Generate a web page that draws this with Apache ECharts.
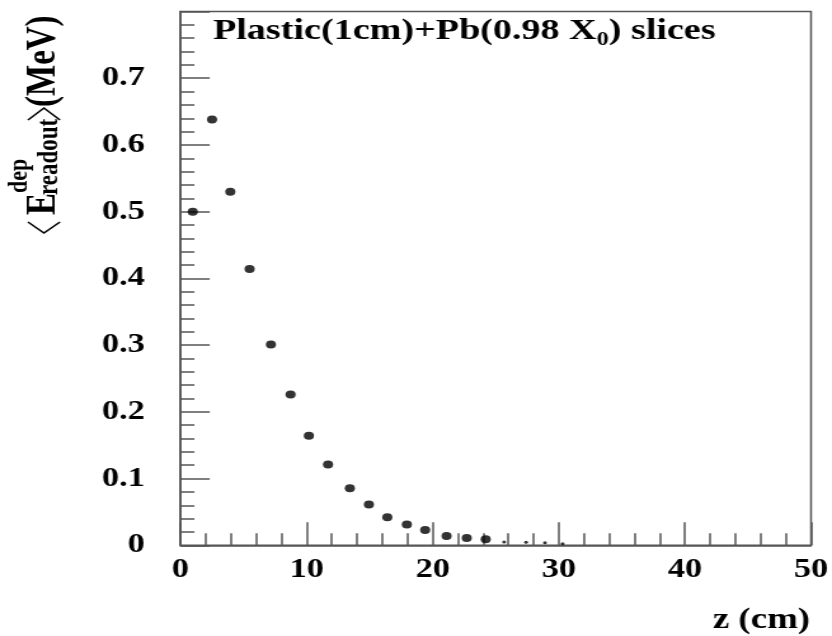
<!DOCTYPE html>
<html>
<head>
<meta charset="utf-8">
<script src="https://cdn.jsdelivr.net/npm/echarts@6/dist/echarts.min.js"></script>
<style>
html,body{margin:0;padding:0;background:#fff;overflow:hidden;}
#c{width:655px;height:636px;transform:scaleX(1.2702);transform-origin:0 0;}
</style>
</head>
<body>
<div id="c"></div>
<script>
// Data
const zSlices = [0.97, 2.5, 3.95, 5.48, 7.17, 8.73, 10.18, 11.7, 13.43, 14.94, 16.4, 17.95, 19.4, 21.1, 22.7, 24.2];
const eDep    = [0.500, 0.638, 0.530, 0.414, 0.301, 0.226, 0.164, 0.121, 0.0855, 0.061, 0.042, 0.031, 0.023, 0.014, 0.011, 0.009];
const zTail   = [25.66, 27.4, 28.9, 30.3];
const eTail   = [0.005, 0.0045, 0.004, 0.0025];
const xTicks  = [0, 10, 20, 30, 40, 50];
const yTicks  = [0, 0.1, 0.2, 0.3, 0.4, 0.5, 0.6, 0.7];

const FONT = '"Liberation Serif", "Times New Roman", serif';
const AX = '#555';

const chart = echarts.init(document.getElementById('c'));

const mainPts = zSlices.map((z, i) => [z, eDep[i]]);
const tailPts = zTail.map((z, i) => [z, eTail[i]]);

function txt(x, y, text, size, rot) {
  return {
    type: 'text', x: x, y: y, rotation: rot || 0, silent: true,
    style: { text: text, fill: '#000', fontFamily: FONT, fontWeight: 'bold', fontSize: size,
             align: 'left', verticalAlign: 'middle' }
  };
}
function bracket(pts) {
  return { type: 'polyline', silent: true, shape: { points: pts },
           style: { stroke: '#000', lineWidth: 1.6, fill: null } };
}

chart.setOption({
  animation: false,
  backgroundColor: '#fff',
  grid: { left: 142.1, right: 16.5, top: 11.5, bottom: 90.7, show: true,
          borderColor: AX, borderWidth: 1.5, backgroundColor: 'transparent' },
  xAxis: {
    type: 'value', min: xTicks[0], max: xTicks[xTicks.length - 1], interval: 10,
    axisLine: { show: true, lineStyle: { color: AX, width: 1.5 } },
    axisTick: { show: true, inside: true, length: 23, lineStyle: { color: AX, width: 1.5 } },
    minorTick: { show: true, splitNumber: 5, length: 12, lineStyle: { color: AX, width: 1.5 } },
    splitLine: { show: false },
    axisLabel: { color: '#000', fontFamily: FONT, fontWeight: 'bold', fontSize: 27, margin: 11,
                 formatter: v => String(v) }
  },
  yAxis: {
    type: 'value', min: 0, max: 0.8, interval: 0.1,
    axisLine: { show: true, lineStyle: { color: AX, width: 1.5 } },
    axisTick: { show: true, inside: true, length: 23, lineStyle: { color: AX, width: 1.5 } },
    minorTick: { show: true, splitNumber: 5, length: 11, lineStyle: { color: AX, width: 1.5 } },
    splitLine: { show: false },
    axisLabel: { color: '#000', fontFamily: FONT, fontWeight: 'bold', fontSize: 27, margin: 28,
                 formatter: v => (v > yTicks[yTicks.length - 1] + 0.05 ? '' : String(+v.toFixed(1))) }
  },
  series: [
    { type: 'scatter', data: mainPts, symbol: 'circle', symbolSize: 8,
      itemStyle: { color: '#000' } },
    { type: 'scatter', data: tailPts, symbol: 'circle', symbolSize: 3,
      itemStyle: { color: '#000' } }
  ],
  graphic: [
    { type: 'text', x: 167.7, y: 16, silent: true,
      style: {
        text: '{m|Plastic(1cm)+Pb(0.98 X}{s|0}{m|) slices}',
        fill: '#000', align: 'left', verticalAlign: 'top',
        rich: {
          m: { fontFamily: FONT, fontWeight: 'bold', fontSize: 30, lineHeight: 34, verticalAlign: 'top' },
          s: { fontFamily: FONT, fontWeight: 'bold', fontSize: 19, lineHeight: 15, verticalAlign: 'bottom' }
        }
      } },
    { type: 'text', right: 17.3, top: 606, silent: true,
      style: { text: 'z (cm)', fill: '#000', fontFamily: FONT, fontWeight: 'bold', fontSize: 29 } },
    // y-axis title, rotated, drawn piece by piece
    bracket([[22.0, 222], [34.6, 233], [47.2, 222]]),
    txt(34.6, 215, 'E', 33, Math.PI / 2),
    txt(15.0, 193, 'dep', 22, Math.PI / 2),
    txt(38.6, 195, 'readout', 23, Math.PI / 2),
    bracket([[22.0, 120], [34.6, 108], [47.2, 120]]),
    txt(34.6, 107, '(MeV)', 33, Math.PI / 2)
  ]
});
</script>
</body>
</html>
